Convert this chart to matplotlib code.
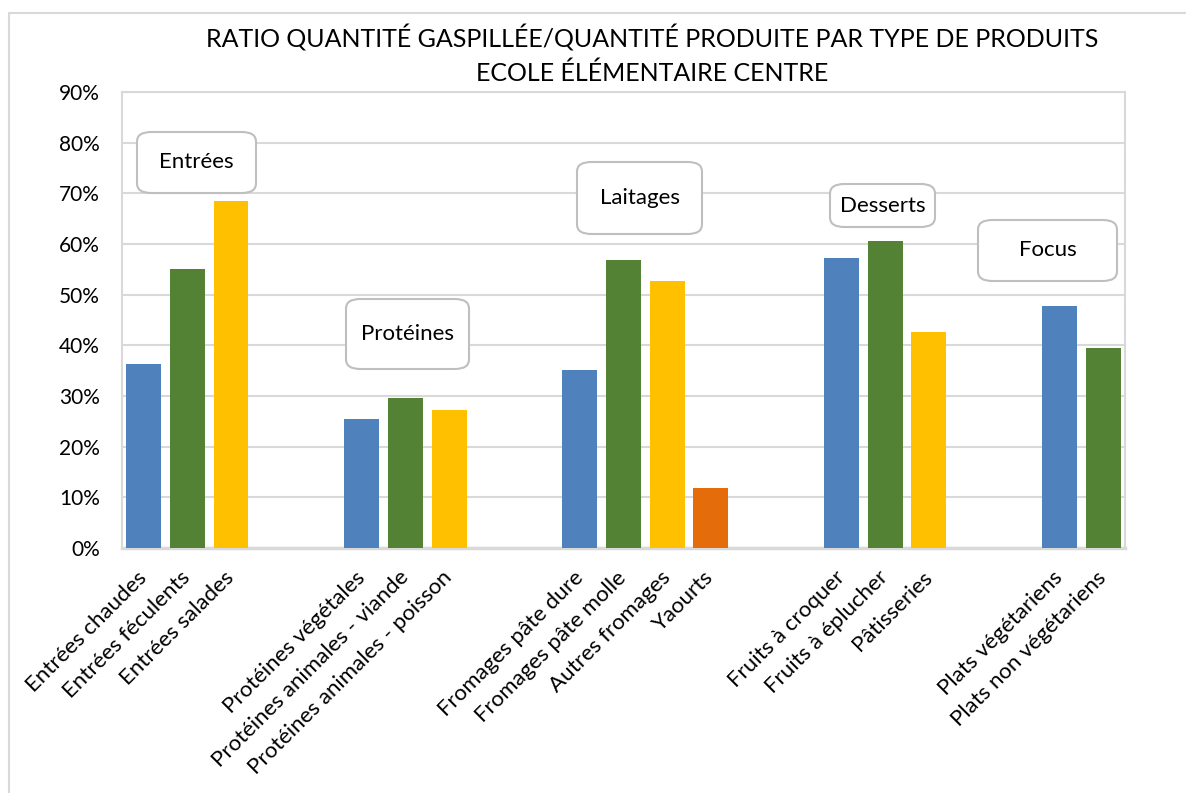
import matplotlib.pyplot as plt
from matplotlib.patches import FancyBboxPatch, Rectangle
import numpy as np

plt.rcParams['font.family'] = ['Lato', 'DejaVu Sans']

# Product families, their items and the wasted/produced ratio (%)
groups = ["Entrées", "Protéines", "Laitages", "Desserts", "Focus"]
entrees = ["Entrées chaudes", "Entrées féculents", "Entrées salades"]
entrees_vals = [36.3, 55.1, 68.5]
proteines = ["Protéines végétales", "Protéines animales - viande", "Protéines animales - poisson"]
proteines_vals = [25.5, 29.6, 27.2]
laitages = ["Fromages pâte dure", "Fromages pâte molle", "Autres fromages", "Yaourts"]
laitages_vals = [35.1, 56.8, 52.7, 11.8]
desserts = ["Fruits à croquer", "Fruits à éplucher", "Pâtisseries"]
desserts_vals = [57.2, 60.6, 42.6]
focus = ["Plats végétariens", "Plats non végétariens"]
focus_vals = [47.8, 39.5]

colors = ["#4F81BD", "#548235", "#FFC000", "#E46C0A"]
grey = "#D9D9D9"

W, H = 1186, 793
fig = plt.figure(figsize=(W / 100, H / 100), dpi=100)
ax = fig.add_axes([122 / W, 1 - 548 / H, (1125 - 122) / W, (548 - 92) / H])

# outer chart frame
fig.patches.append(Rectangle((9 / W, -0.05), 1.2, 1 - 13 / H + 0.05, transform=fig.transFigure,
                             fill=False, edgecolor=grey, linewidth=1.5))

items = [entrees, proteines, laitages, desserts, focus]
values = [entrees_vals, proteines_vals, laitages_vals, desserts_vals, focus_vals]

gap = 2
pos = 0
ticks, labels = [], []
for names, vals in zip(items, values):
    x = pos + np.arange(len(names))
    ax.bar(x, vals, width=0.8, color=colors[:len(names)], zorder=3)
    ticks += list(x)
    labels += names
    pos += len(names) + gap

ax.set_xlim(-0.5, pos - gap - 0.5)
ax.set_ylim(0, 90)
ax.set_yticks(np.arange(0, 91, 10))
ax.set_yticklabels([f"{v}%" for v in range(0, 91, 10)], fontsize=15)
ax.set_xticks(ticks)
ax.set_xticklabels(labels, rotation=45, ha='right', va='center',
                   rotation_mode='anchor', fontsize=16)
ax.tick_params(axis='both', length=0)
ax.tick_params(axis='y', pad=16)
ax.tick_params(axis='x', pad=19)
ax.grid(axis='y', color=grey, linewidth=1.5, zorder=0)
for s in ax.spines.values():
    s.set_color(grey)
    s.set_linewidth(1.5)
ax.spines['bottom'].set_linewidth(2.5)

# family labels in rounded boxes (pixel boxes: left, top, right, bottom)
boxes = [(137, 132, 256, 193), (346, 299, 469, 369), (577, 162, 702, 234),
         (830, 184, 935, 227), (978, 220, 1117, 281)]
for name, (l, t, r, b) in zip(groups, boxes):
    patch = FancyBboxPatch((l / W, 1 - b / H), (r - l) / W, (b - t) / H,
                           boxstyle="round,pad=0,rounding_size=0.012",
                           transform=fig.transFigure, facecolor='white',
                           edgecolor='#BFBFBF', linewidth=1.5, zorder=5)
    fig.patches.append(patch)
    fig.text((l + r) / 2 / W, 1 - (t + b) / 2 / H, name, ha='center', va='center',
             fontsize=16, zorder=6)

fig.text(652 / W, 1 - 38 / H, "RATIO QUANTITÉ GASPILLÉE/QUANTITÉ PRODUITE PAR TYPE DE PRODUITS",
         ha='center', va='center', fontsize=18)
fig.text(652 / W, 1 - 73 / H, "ECOLE ÉLÉMENTAIRE CENTRE", ha='center', va='center', fontsize=18)

fig.savefig("out.png", dpi=100)
